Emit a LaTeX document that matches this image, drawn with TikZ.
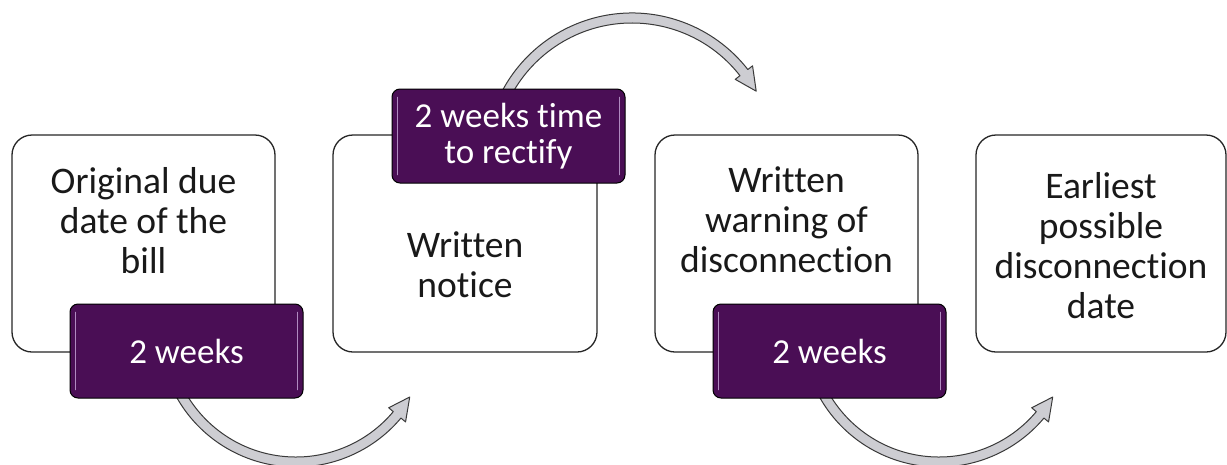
\documentclass[tikz,border=0pt]{standalone}
\usepackage{fontspec}
\setmainfont{Carlito}[Ligatures=NoCommon]
\usetikzlibrary{calc}
\definecolor{purp}{HTML}{4A0E55}
\definecolor{purphi}{HTML}{B08AC0}
\definecolor{boxline}{HTML}{262626}
\definecolor{arrowfill}{HTML}{CDCDD2}
\definecolor{arrowline}{HTML}{3A3A3A}
\newcommand\curvedarrow[5]{%
  \fill[arrowfill,draw=arrowline,line width=1pt,line join=round]
    ($(#1)+(#3:#2+5pt)$) arc[start angle=#3,end angle=#4,radius=#2+5pt]
    -- ($(#1)+(#4:#2+11pt)$) -- ($(#1)+(#5:#2)$) -- ($(#1)+(#4:#2-11pt)$)
    -- ($(#1)+(#4:#2-5pt)$) arc[start angle=#4,end angle=#3,radius=#2-5pt] -- cycle;}
\newcommand\purphilite[1]{%
  \draw[purphi,line width=1.6pt,line cap=round]
    ($(#1.north west)+(6pt,-9pt)$) -- ($(#1.south west)+(6pt,9pt)$);
  \draw[purphi,line width=1.6pt,line cap=round]
    ($(#1.north east)+(-6pt,-9pt)$) -- ($(#1.south east)+(-6pt,9pt)$);}
\begin{document}
\begin{tikzpicture}[x=1pt,y=1pt,
  wbox/.style={draw=boxline,line width=1.3pt,fill=white,rounded corners=20pt,
    minimum height=217pt,inner sep=0pt},
  wtext/.style={align=center,text=black!90,inner sep=0pt,
    font=\fontsize{37.5}{40}\selectfont},
  pbox/.style={draw=black,line width=1pt,fill=purp,rounded corners=8pt,
    minimum width=233pt,minimum height=94pt,inner sep=0pt,align=center,
    text=white,font=\fontsize{35}{36}\selectfont}]
\useasboundingbox (0,0) rectangle (1227,-464);
% white boxes
\node[wbox,minimum width=263pt] (b1) at (143.5,-243.5) {};
\node[wbox,minimum width=264pt] (b2) at (465,-243.5) {};
\node[wbox,minimum width=263pt] (b3) at (786.5,-243.5) {};
\node[wbox,minimum width=250pt] (b4) at (1101,-243.5) {};
\node[wtext] (t1) at (143.5,-221) {Original due\\date of the\\bill};
\node[wtext] (t2) at (465,-265) {Written\\notice};
\node[wtext] (t3) at (786.5,-220) {Written\\warning of\\disconnection};
\node[wtext] (t4) at (1101,-246) {Earliest\\possible\\disconnection\\date};
% curved arrows
\coordinate (c1) at (296,-330);
\coordinate (c2) at (632,-160);
\coordinate (c3) at (939,-330);
\curvedarrow{c1}{132pt}{200}{320}{329.5}
\curvedarrow{c2}{142pt}{160}{38}{29}
\curvedarrow{c3}{132pt}{200}{320}{329.5}
% purple boxes
\node[pbox] (p1) at (186.5,-351) {2 weeks};
\node[pbox] (p2) at (508.5,-136) {2 weeks time\\to rectify};
\node[pbox] (p3) at (829.5,-351) {2 weeks};
\purphilite{p1}
\purphilite{p2}
\purphilite{p3}
\end{tikzpicture}
\end{document}
